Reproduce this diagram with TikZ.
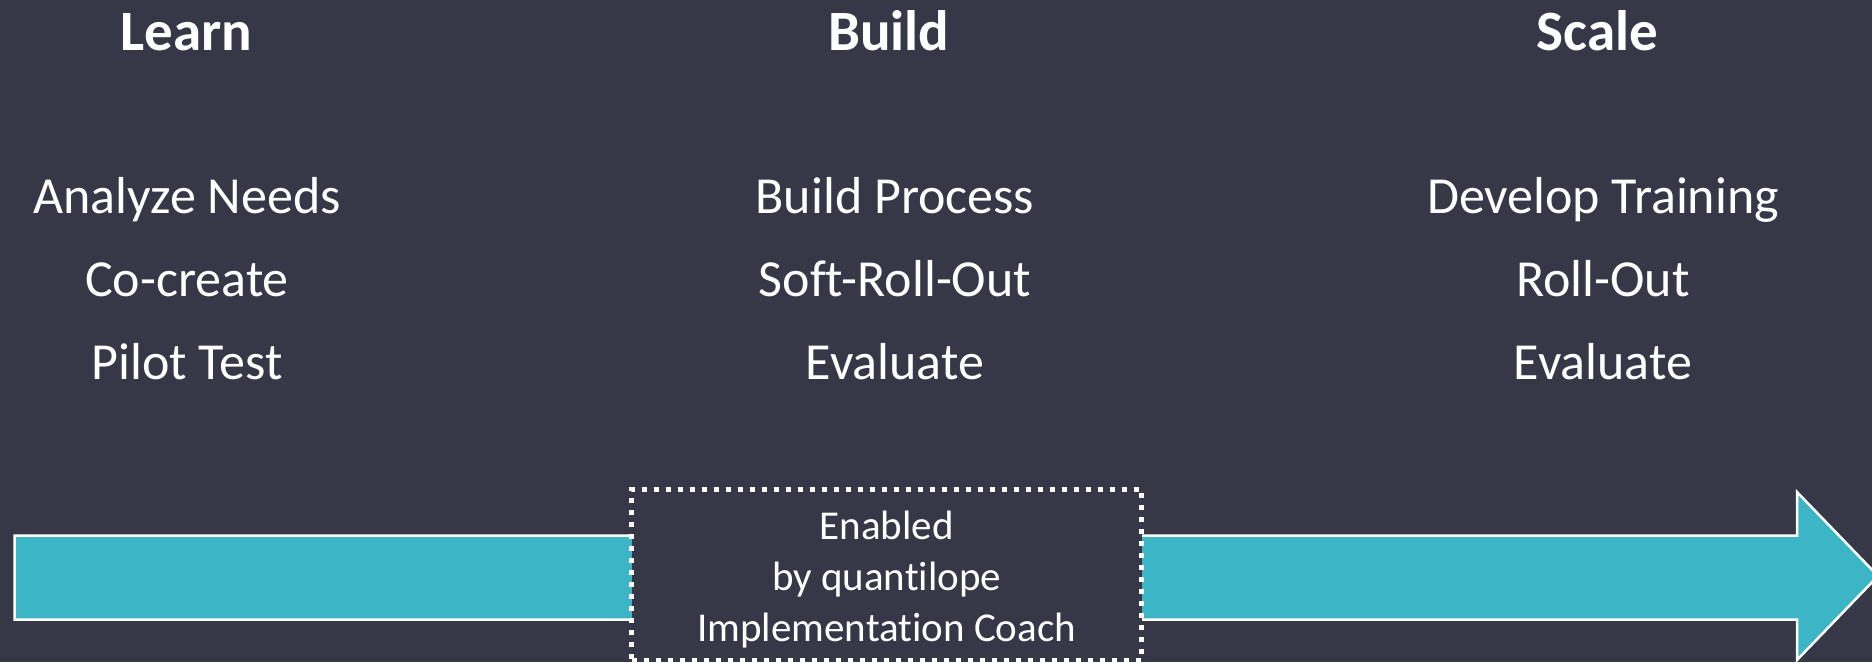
\documentclass[tikz,border=0pt]{standalone}
\usepackage{fontspec}
\setmainfont{Carlito}[Ligatures=NoCommon]
\usetikzlibrary{positioning}

\definecolor{slate}{RGB}{54,56,72}
\definecolor{teal}{RGB}{60,182,198}

\begin{document}
\begin{tikzpicture}[x=1pt,y=-1pt,node distance=83.3pt,
  phase/.style={text=white,font=\fontsize{57}{68}\selectfont\bfseries,
    text height=40pt,text depth=12pt,inner sep=0pt},
  task/.style={text=white,font=\fontsize{52}{62}\selectfont,
    text height=38pt,text depth=12pt,inner sep=0pt},
  coachbox/.style={draw=white,fill=slate,line width=5pt,
    dash pattern=on 5pt off 7pt,minimum width=510pt,minimum height=171pt,
    inner sep=0pt},
  coachtext/.style={text=white,font=\fontsize{41}{50.8}\selectfont,align=center,
    inner sep=0pt}]
  \fill[slate] (0,0) rectangle (1872,662);
  \useasboundingbox (0,0) rectangle (1872,662);

  % phases
  \node[phase] (learn) at (186.7,36) {Learn};
  \node[phase] (build) at (888.8,36) {Build};
  \node[phase] (scale) at (1597.5,36) {Scale};

  % tasks per phase
  \node[task] (l1) at (187,200) {Analyze Needs};
  \node[task] (l2) [below of=l1] {Co-create};
  \node[task] (l3) [below of=l2] {Pilot Test};
  \node[task] (b1) at (895,200) {Build Process};
  \node[task] (b2) [below of=b1] {Soft-Roll-Out};
  \node[task] (b3) [below of=b2] {Evaluate};
  \node[task] (s1) at (1603,200) {Develop Training};
  \node[task] (s2) [below of=s1] {Roll-Out};
  \node[task] (s3) [below of=s2] {Evaluate};

  % timeline arrow
  \draw[white,fill=teal,line width=2.5pt,line join=miter]
    (14.5,535.5) -- (1797,535.5) -- (1797,492) -- (1878,576)
    -- (1797,660) -- (1797,619.5) -- (14.5,619.5) -- cycle;

  % coach box
  \node[coachbox] (coach) at (886.7,574.5) {};
  \node[coachtext,yshift=-5pt] (coachlbl) at (coach) {Enabled\\by quantilope\\Implementation Coach};
\end{tikzpicture}
\end{document}
